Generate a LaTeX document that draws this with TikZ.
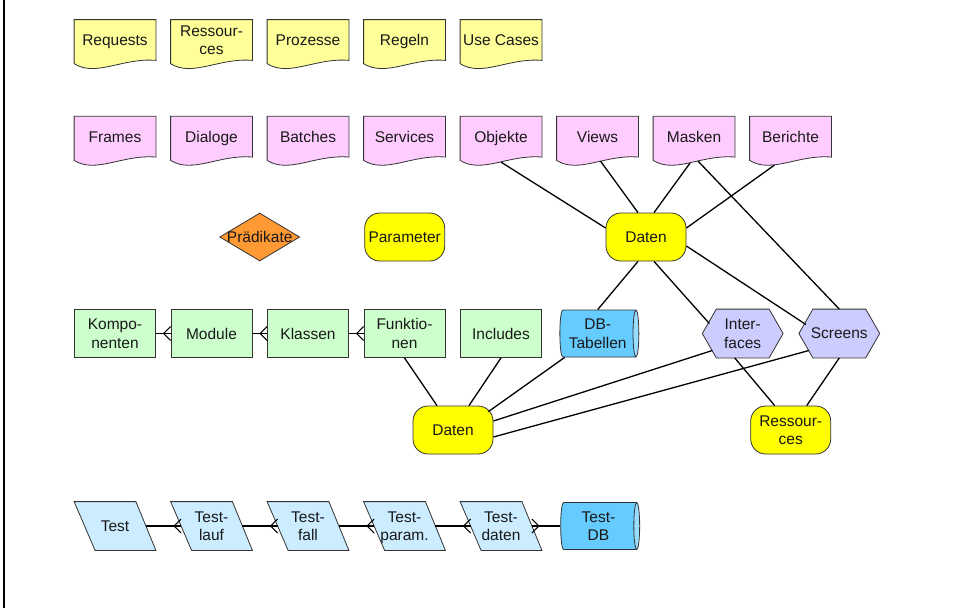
\documentclass[tikz,border=0pt]{standalone}
\usepackage{fontspec}
\setmainfont{Liberation Sans}
\usetikzlibrary{shapes.geometric,calc,backgrounds,decorations.markings}
\definecolor{docyellow}{HTML}{FFFF99}
\definecolor{docpink}{HTML}{FFCCFF}
\definecolor{codegreen}{HTML}{CCFFCC}
\definecolor{datyellow}{HTML}{FFFF00}
\definecolor{hexblue}{HTML}{CCCCFF}
\definecolor{testblue}{HTML}{CCECFF}
\definecolor{cylbody}{HTML}{66CCFF}
\definecolor{cylend}{HTML}{99DDFF}
\definecolor{predorange}{HTML}{FF9933}
\definecolor{rimgray}{HTML}{333333}
\begin{document}
\begin{tikzpicture}[x=1pt,y=-1pt]

    \tikzset{
      box/.style={
        draw=rimgray,
        line width=0.8pt,
        minimum width=81pt,
        minimum height=48pt,
        inner sep=0pt,
        align=center,
        text depth=0pt,
        text=black!90,
        font=\fontsize{15.5}{18.5}\selectfont,
      },
      docbox/.style={box, draw=none, minimum height=40pt},
      codebox/.style={box, fill=codegreen},
      datbox/.style={box, fill=datyellow, rounded corners=15pt, minimum width=80pt},
      hexbox/.style={box, draw=none, minimum width=80pt},
      testbox/.style={box, draw=none},
      dbcyl/.style={box, cylinder, aspect=0.2, minimum height=79pt, minimum width=47pt,
        cylinder uses custom fill, cylinder body fill=cylbody, cylinder end fill=cylend},
      predbox/.style={box, diamond, fill=predorange, minimum width=80pt},
      link/.style={line width=1.3pt, black},
      crow/.style={link, postaction={decorate}, decoration={markings,
        mark=at position 1 with {\draw[line width=1.1pt] (-7pt,0pt) -- (0pt,7pt) (-7pt,0pt) -- (0pt,-7pt);}}},
    }
    \useasboundingbox (0,0) rectangle (955,608);
    \draw[line width=2pt] (3.7,0) -- (3.7,608);

	\node[docbox] (req) at (115,40) {Requests};
	\node[docbox] (resO) at (211.5,40) {Ressour-\\ces};
	\node[docbox] (proz) at (308,40) {Prozesse};
	\node[docbox] (regeln) at (404.5,40) {Regeln};
	\node[docbox] (usecases) at (501,40) {Use Cases};

	\node[docbox] (frames) at (115,136.7) {Frames};
	\node[docbox] (dialoge) at (211.5,136.7) {Dialoge};
	\node[docbox] (batches) at (308,136.7) {Batches};
	\node[docbox] (services) at (404.5,136.7) {Services};
	\node[docbox] (objekte) at (501,136.7) {Objekte};
	\node[docbox] (views) at (597.5,136.7) {Views};
	\node[docbox] (masken) at (694,136.7) {Masken};
	\node[docbox] (berichte) at (790.5,136.7) {Berichte};

	\node[predbox] (praed) at (259.7,237) {};
	\node[box, draw=none] at (praed.center) {Prädikate};
	\node[datbox] (param) at (404.7,237) {Parameter};
	\node[datbox] (datO) at (646,237) {Daten};

	\node[codebox] (kompo) at (115,333.5) {Kompo-\\nenten};
	\node[codebox] (module) at (211.5,333.5) {Module};
	\node[codebox] (klassen) at (308,333.5) {Klassen};
	\node[codebox] (funk) at (404.5,333.5) {Funktio-\\nen};
	\node[codebox] (incl) at (501,333.5) {Includes};
	\node[dbcyl] (dbtab) at (597.7,333.5) {DB-\\Tabellen};
	\node[hexbox] (interf) at (742.7,333.5) {Inter-\\faces};
	\node[hexbox] (screens) at (839.3,333.5) {Screens};

	\node[datbox] (datU) at (453,430) {Daten};
	\node[datbox] (resU) at (790.7,430) {Ressour-\\ces};

	\node[testbox] (test) at (115,526) {Test};
	\node[testbox] (testlauf) at (211.5,526) {Test-\\lauf};
	\node[testbox] (testfall) at (308,526) {Test-\\fall};
	\node[testbox] (testparam) at (404.5,526) {Test-\\param.};
	\node[testbox] (testdaten) at (501,526) {Test-\\daten};
	\node[dbcyl] (testdb) at (598.5,526) {Test-\\DB};

    \begin{scope}[on background layer]
	\foreach \n/\c in {req/docyellow,resO/docyellow,proz/docyellow,regeln/docyellow,usecases/docyellow,
	  frames/docpink,dialoge/docpink,batches/docpink,services/docpink,objekte/docpink,views/docpink,masken/docpink,berichte/docpink}
	  \filldraw[fill=\c, draw=rimgray, line width=0.8pt] (\n.north west) -- (\n.north east) -- (\n.south east)
	    .. controls +(-33,-3) and +(22,13.7) .. ($(\n.south west)+(0,3.3)$) -- cycle;
	\foreach \n in {interf,screens}
	  \filldraw[fill=hexblue, draw=rimgray, line width=0.8pt] (\n.west) -- ($(\n.north west)+(14,0)$)
	    -- ($(\n.north east)+(-14,0)$) -- (\n.east) -- ($(\n.south east)+(-14,0)$) -- ($(\n.south west)+(14,0)$) -- cycle;
	\foreach \n in {test,testlauf,testfall,testparam,testdaten}
	  \filldraw[fill=testblue, draw=rimgray, line width=0.8pt] (\n.north west) -- ($(\n.north east)+(-20,0)$)
	    -- (\n.south east) -- ($(\n.south west)+(21,0)$) -- cycle;
    \end{scope}

	\draw[link] ($(objekte.south)+(0,5)$) -- ($(datO.west)+(0,-9)$);
	\draw[link] ($(views.south)+(3,4)$) -- ($(datO.north)+(-8,0)$);
	\draw[link] ($(masken.south)+(-4,6)$) -- ($(datO.north)+(8,0)$);
	\draw[link] ($(berichte.south)+(-16,8)$) -- ($(datO.east)+(0,-9)$);
	\draw[link] ($(masken.south)+(4,4)$) -- (screens.north);
	\draw[link] ($(datO.south)+(-8,0)$) -- (dbtab.north);
	\draw[link] ($(datO.south)+(8,0)$) -- ($(interf.west)+(7,-10)$);
	\draw[link] ($(datO.east)+(0,9)$) -- ($(screens.west)+(7,-9)$);
	\draw[link] ($(interf.south)+(-8,0)$) -- ($(resU.north)+(-16,0)$);
	\draw[link] (screens.south) -- ($(resU.north)+(16,0)$);

	\draw[link] (funk.south) -- ($(datU.north)+(-16,0)$);
	\draw[link] (incl.south) -- ($(datU.north)+(16,0)$);
	\draw[link] ($(dbtab.south)+(-33,0)$) -- ($(datU.north east)+(-5,6)$);
	\draw[link] ($(interf.west)+(10,17)$) -- ($(datU.east)+(0,-9)$);
	\draw[link] ($(screens.west)+(10,17)$) -- ($(datU.east)+(0,7)$);

	\draw[crow] (kompo.east) -- (module.west);
	\draw[crow] (module.east) -- (klassen.west);
	\draw[crow] (klassen.east) -- (funk.west);

	\draw[crow] ($(test.east)+(-10,0)$) -- ($(testlauf.west)+(10.5,0)$);
	\draw[crow] ($(testlauf.east)+(-10,0)$) -- ($(testfall.west)+(10.5,0)$);
	\draw[crow] ($(testfall.east)+(-10,0)$) -- ($(testparam.west)+(10.5,0)$);
	\draw[crow] ($(testparam.east)+(-10,0)$) -- ($(testdaten.west)+(10.5,0)$);
	\draw[crow] (testdb.west) -- ($(testdaten.east)+(-10,0)$);

\end{tikzpicture}
\end{document}
